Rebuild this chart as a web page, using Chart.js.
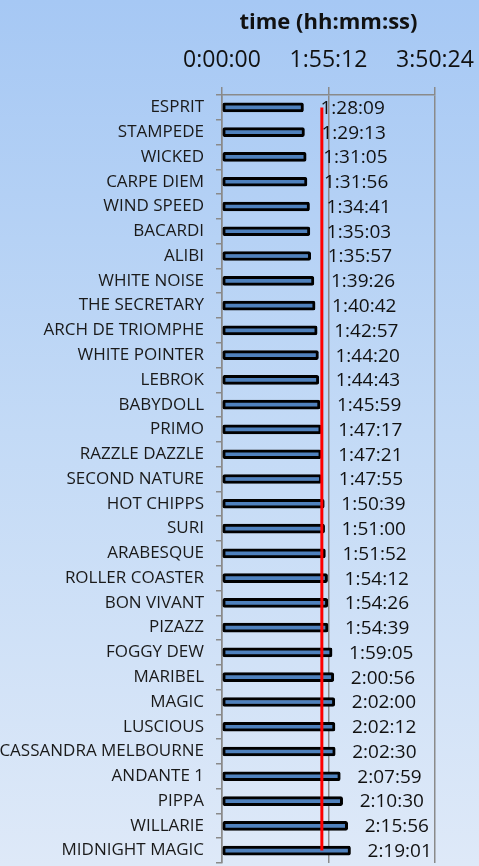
<!DOCTYPE html>
<html>
<head>
<meta charset="utf-8">
<script src="https://cdn.jsdelivr.net/npm/chart.js@4/dist/chart.umd.min.js"></script>
<style>
  html, body { margin: 0; padding: 0; }
  body {
    width: 479px;
    height: 866px;
    background: linear-gradient(to bottom, #a6c8f4 0%, #c3daf6 50%, #dee9f8 100%);
  }
  canvas { display: block; }
</style>
</head>
<body>
<canvas id="chart" width="479" height="866"></canvas>
<script>
const boats = [
  'ESPRIT', 'STAMPEDE', 'WICKED', 'CARPE DIEM', 'WIND SPEED', 'BACARDI', 'ALIBI',
  'WHITE NOISE', 'THE SECRETARY', 'ARCH DE TRIOMPHE', 'WHITE POINTER', 'LEBROK',
  'BABYDOLL', 'PRIMO', 'RAZZLE DAZZLE', 'SECOND NATURE', 'HOT CHIPPS', 'SURI',
  'ARABESQUE', 'ROLLER COASTER', 'BON VIVANT', 'PIZAZZ', 'FOGGY DEW', 'MARIBEL',
  'MAGIC', 'LUSCIOUS', 'CASSANDRA MELBOURNE', 'ANDANTE 1', 'PIPPA', 'WILLARIE',
  'MIDNIGHT MAGIC',
];

const times = [
  '1:28:09', '1:29:13', '1:31:05', '1:31:56', '1:34:41', '1:35:03', '1:35:57',
  '1:39:26', '1:40:42', '1:42:57', '1:44:20', '1:44:43', '1:45:59', '1:47:17',
  '1:47:21', '1:47:55', '1:50:39', '1:51:00', '1:51:52', '1:54:12', '1:54:26',
  '1:54:39', '1:59:05', '2:00:56', '2:02:00', '2:02:12', '2:02:30', '2:07:59',
  '2:10:30', '2:15:56', '2:19:01',
];

// красная линия (ориентир) ~1:48:00
const markerTime = '1:48:00';
const axisTicks = ['0:00:00', '1:55:12', '3:50:24'];

const toSec = (s) => s.split(':').reduce((acc, p) => acc * 60 + Number(p), 0);
const pad = (n) => String(n).padStart(2, '0');
const toHms = (v) => {
  const t = Math.round(v);
  return `${Math.floor(t / 3600)}:${pad(Math.floor((t % 3600) / 60))}:${pad(t % 60)}`;
};

const seconds = times.map(toSec);
const markerSec = toSec(markerTime);
const tickSec = axisTicks.map(toSec);

const FONT = "'Open Sans', 'DejaVu Sans', sans-serif";

// подписи значений справа от столбцов
const barLabels = {
  id: 'barLabels',
  afterDatasetsDraw(chart) {
    const { ctx } = chart;
    const meta = chart.getDatasetMeta(0);
    ctx.save();
    ctx.font = `19px ${FONT}`;
    ctx.fillStyle = '#111';
    ctx.textAlign = 'left';
    ctx.textBaseline = 'middle';
    meta.data.forEach((bar, i) => {
      ctx.fillText(times[i], bar.x + 17, bar.y + 1);
    });
    ctx.restore();
  },
};

new Chart(document.getElementById('chart'), {
  data: {
    labels: boats,
    datasets: [
      {
        type: 'bar',
        data: seconds,
        backgroundColor: '#4f81bd',
        borderColor: '#000',
        borderWidth: 3,
        borderRadius: 2,
        borderSkipped: false,
        barThickness: 9,
        order: 2,
      },
      {
        type: 'line',
        data: boats.map(() => markerSec),
        borderColor: '#ff0000',
        borderWidth: 3,
        pointRadius: 0,
        order: 1,
      },
    ],
  },
  options: {
    indexAxis: 'y',
    responsive: false,
    animation: false,
    layout: { padding: { top: 0, right: 44, bottom: 3, left: 0 } },
    plugins: {
      legend: { display: false },
      tooltip: { enabled: false },
    },
    scales: {
      x: {
        position: 'top',
        min: 0,
        max: tickSec[2],
        afterBuildTicks: (scale) => {
          scale.ticks = tickSec.map((v) => ({ value: v }));
        },
        afterFit: (scale) => {
          scale.height = 95;
          scale.paddingLeft = 0;
          scale.paddingRight = 0;
        },
        title: {
          display: true,
          text: 'time (hh:mm:ss)',
          color: '#111',
          font: { family: FONT, size: 22, weight: 'bold' },
          padding: { top: 10, bottom: 0 },
        },
        ticks: {
          color: '#111',
          font: { family: FONT, size: 23 },
          padding: 13,
          maxRotation: 0,
          callback: (v) => toHms(v),
        },
        grid: {
          color: '#8a8a8a',
          lineWidth: 1.5,
          tickLength: 8,
        },
        border: { color: '#8a8a8a', width: 1.5 },
      },
      y: {
        afterFit: (scale) => {
          scale.width = 222;
          scale.paddingTop = 0;
          scale.paddingBottom = 0;
        },
        ticks: {
          color: '#1a1a1a',
          font: { family: FONT, size: 17 },
          padding: 12,
          autoSkip: false,
        },
        grid: {
          drawOnChartArea: false,
          color: '#8a8a8a',
          lineWidth: 1.5,
          tickLength: 6,
        },
        border: { color: '#8a8a8a', width: 1.5 },
      },
    },
  },
  plugins: [barLabels],
});
</script>
</body>
</html>
